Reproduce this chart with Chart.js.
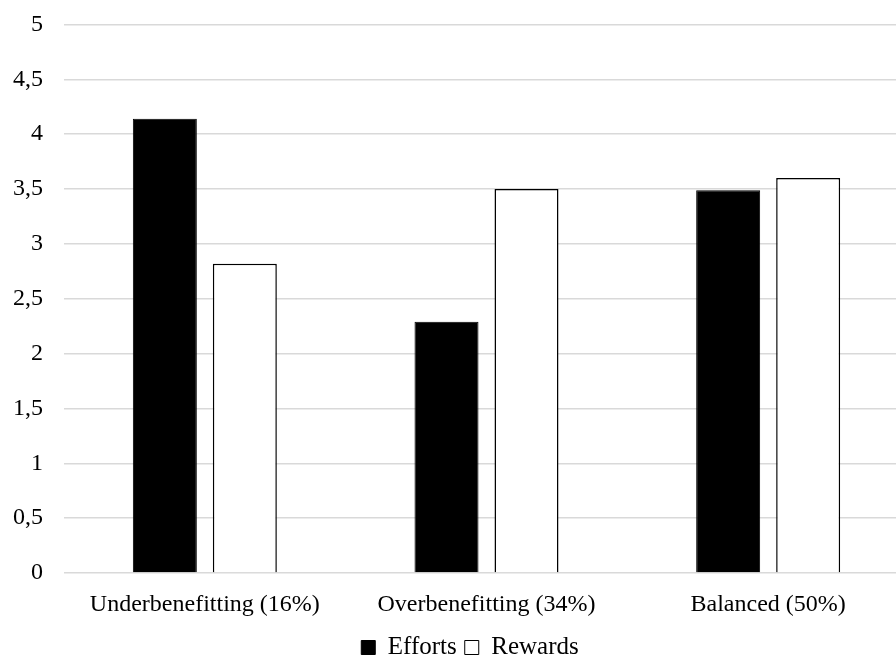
<!DOCTYPE html>
<html>
<head>
<meta charset="utf-8">
<script src="https://cdn.jsdelivr.net/npm/chart.js@4/dist/chart.umd.min.js"></script>
<style>
  html, body { margin: 0; padding: 0; background: #fff; overflow: hidden; }
  #wrap { width: 896px; height: 657px; overflow: hidden; }
</style>
</head>
<body>
<div id="wrap"><canvas id="c" width="909" height="657"></canvas></div>
<script>
const categories = ['Underbenefitting (16%)', 'Overbenefitting (34%)', 'Balanced (50%)'];
const efforts = [4.14, 2.29, 3.49];
const rewards = [2.82, 3.50, 3.60];
const yTicks = [0, 0.5, 1, 1.5, 2, 2.5, 3, 3.5, 4, 4.5, 5];

const FONT = 'Liberation Serif';

// Nudges the legend row so it sits under the plot area rather than the canvas centre.
const legendPlacement = {
  id: 'legendPlacement',
  afterLayout(chart) {
    const lg = chart.legend;
    if (!lg) return;
    const dx = 31, dy = 8;
    lg.left += dx;
    lg.top += dy;
    lg.bottom += dy;
  }
};

new Chart(document.getElementById('c'), {
  type: 'bar',
  data: {
    labels: categories,
    datasets: [
      {
        label: 'Efforts',
        data: efforts,
        backgroundColor: '#000000',
        borderColor: '#000000',
        borderWidth: 1,
        categoryPercentage: 0.568,
        barPercentage: 0.8
      },
      {
        label: 'Rewards',
        data: rewards,
        backgroundColor: '#ffffff',
        borderColor: '#000000',
        borderWidth: 1.5,
        categoryPercentage: 0.568,
        barPercentage: 0.8
      }
    ]
  },
  plugins: [legendPlacement],
  options: {
    responsive: false,
    animation: false,
    devicePixelRatio: 1,
    layout: { padding: { top: 24.5, right: 0, left: 0, bottom: -5 } },
    plugins: {
      tooltip: { enabled: false },
      legend: {
        position: 'bottom',
        labels: {
          color: '#000',
          font: { family: FONT, size: 25 },
          boxWidth: 14,
          boxHeight: 14,
          padding: 8,
          generateLabels(chart) {
            return chart.data.datasets.map((ds, i) => ({
              text: ds.label,
              fillStyle: ds.backgroundColor,
              strokeStyle: '#000',
              lineWidth: 1,
              hidden: false,
              datasetIndex: i,
              fontColor: '#000'
            }));
          }
        }
      }
    },
    scales: {
      x: {
        afterFit(scale) { scale.height = 46; },
        grid: { display: false, drawTicks: false },
        border: { display: false },
        ticks: {
          color: '#000',
          font: { family: FONT, size: 24 },
          padding: 17,
          maxRotation: 0
        }
      },
      y: {
        min: 0,
        max: 5,
        afterBuildTicks(scale) {
          scale.ticks = yTicks.map(v => ({ value: v }));
        },
        afterFit(scale) { scale.width = 64; },
        grid: {
          color: '#d9d9d9',
          lineWidth: 1.5,
          drawTicks: true,
          tickLength: 21,
          tickColor: 'rgba(0,0,0,0)'
        },
        border: { display: false },
        ticks: {
          color: '#000',
          font: { family: FONT, size: 24 },
          padding: 0,
          callback: v => String(v).replace('.', ',')
        }
      }
    }
  }
});
</script>
</body>
</html>
